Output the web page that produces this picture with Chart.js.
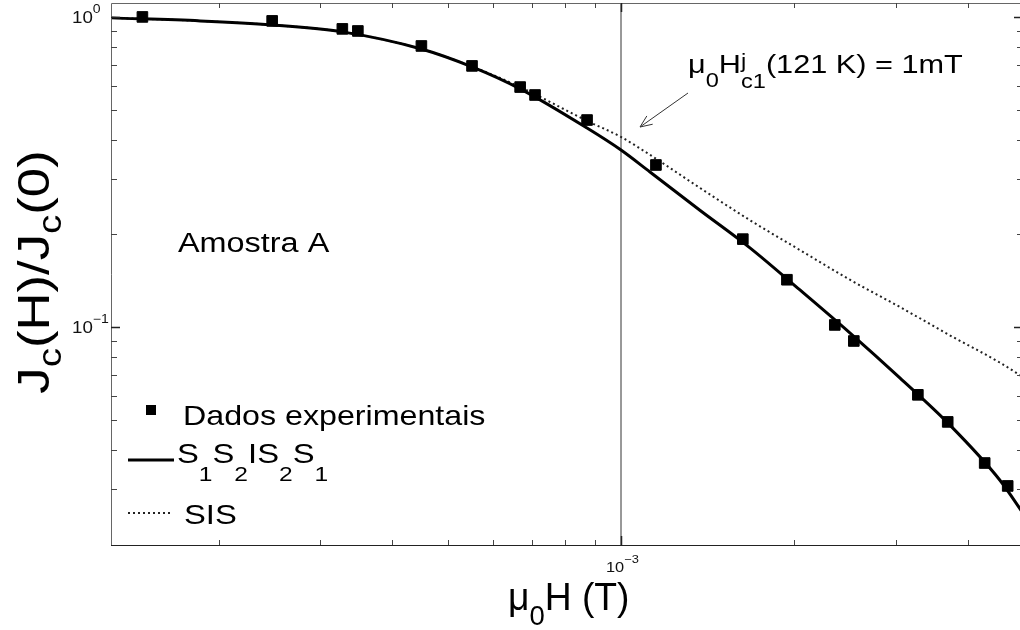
<!DOCTYPE html>
<html>
<head>
<meta charset="utf-8">
<title>Jc(H)/Jc(0) - Amostra A</title>
<script src="https://cdn.jsdelivr.net/npm/chart.js@4.4.0/dist/chart.umd.min.js"></script>
<style>
  html, body { margin: 0; padding: 0; background: #fff; overflow: hidden; }
  canvas { display: block; }
</style>
</head>
<body>
<canvas id="chart" width="1020" height="630"></canvas>
<script>
(function () {
  'use strict';

  /* ── Data ─────────────────────────────────────────────────────────────── */
  // experimental points: mu0*H (T) and Jc(H)/Jc(0)
  const fieldExp = [1.474e-4, 2.477e-4, 3.28e-4, 3.49e-4, 4.50e-4, 5.51e-4, 6.68e-4, 7.09e-4, 8.73e-4,
                    1.150e-3, 1.628e-3, 1.942e-3, 2.352e-3, 2.538e-3, 3.279e-3, 3.695e-3, 4.284e-3, 4.697e-3];
  const jcExp    = [1.0, 0.971, 0.915, 0.901, 0.806, 0.695, 0.594, 0.560, 0.465,
                    0.333, 0.192, 0.142, 0.1015, 0.0901, 0.0604, 0.0494, 0.0364, 0.0307];

  // model curves, sampled along the field axis
  const fieldFit = [1.302e-4, 1.858e-4, 2.477e-4, 3.28e-4, 4.50e-4, 5.51e-4, 6.68e-4, 8.73e-4, 1.0e-3,
                    1.123e-3, 1.371e-3, 1.675e-3, 2.046e-3, 2.498e-3, 3.051e-3, 3.726e-3, 4.550e-3, 5.0e-3];
  const jcSSISS  = [0.993, 0.971, 0.942, 0.895, 0.788, 0.690, 0.586, 0.438, 0.372,
                    0.316, 0.238, 0.180, 0.1316, 0.0957, 0.0685, 0.0483, 0.0321, 0.0250];
  const jcSIS    = [0.993, 0.971, 0.942, 0.895, 0.788, 0.692, 0.594, 0.462, 0.410,
                    0.359, 0.281, 0.221, 0.177, 0.142, 0.116, 0.094, 0.0768, 0.0688];

  // marker line mu0*Hc1(121 K) = 1 mT
  const hc1Field = 1e-3;

  // axes
  const X_MIN = 1.3e-4, X_MAX = 4.934e-3;
  const Y_MIN = 0.0198, Y_MAX = 1.109;
  const xMinorTicks = [2e-4, 3e-4, 4e-4, 5e-4, 6e-4, 7e-4, 8e-4, 9e-4, 2e-3, 3e-3, 4e-3];
  const xMajorTicks = [1e-3];
  const xLabelExps  = ['\u22123'];
  const yMajorTicks = [1, 0.1];
  const yMinorTicks = [0.9, 0.8, 0.7, 0.6, 0.5, 0.4, 0.3, 0.2, 0.09, 0.08, 0.07, 0.06, 0.05, 0.04, 0.03];
  const yLabelExps  = ['0', '\u22121'];

  const FONT = '"Liberation Sans", Arial, Helvetica, sans-serif';
  const SX = 1.17; // the source figure is a bit wider than tall

  const pts = (xs, ys) => xs.map((x, i) => ({ x: x, y: ys[i] }));

  /* ── Rich text helper (sub/superscripts) ──────────────────────────────── */
  function rich(ctx, runs, x, y, sx, draw) {
    let cx = x;
    runs.forEach(r => {
      ctx.font = r.size + 'px ' + FONT;
      const w = ctx.measureText(r.t).width * sx;
      if (draw) {
        ctx.save();
        ctx.translate(cx, y + (r.dy || 0));
        ctx.scale(sx, 1);
        ctx.fillText(r.t, 0, 0);
        ctx.restore();
      }
      if (r.adv !== false) cx += w;
    });
    return cx - x;
  }

  /* ── Frame, ticks, labels, legend, annotation ─────────────────────────── */
  const framePlugin = {
    id: 'frame',
    afterDraw(chart) {
      const ctx = chart.ctx;
      const a = chart.chartArea;
      const xs = chart.scales.x, ys = chart.scales.y;
      ctx.save();
      ctx.textAlign = 'left';
      ctx.textBaseline = 'alphabetic';

      // box (right edge lies just outside the picture)
      ctx.lineWidth = 1;
      ctx.strokeStyle = '#666';
      ctx.beginPath();
      ctx.moveTo(a.right + 2, a.top + 0.5); ctx.lineTo(a.left + 0.5, a.top + 0.5);
      ctx.lineTo(a.left + 0.5, a.bottom);
      ctx.stroke();
      ctx.strokeStyle = '#222';
      ctx.beginPath();
      ctx.moveTo(a.left, a.bottom + 0.5); ctx.lineTo(a.right + 2, a.bottom + 0.5);
      ctx.stroke();

      // ticks (inward, on all four sides)
      const R = a.right + 3;
      function xTick(v, len) {
        const px = Math.round(xs.getPixelForValue(v)) + 0.5;
        ctx.beginPath();
        ctx.moveTo(px, a.bottom); ctx.lineTo(px, a.bottom - len);
        ctx.moveTo(px, a.top); ctx.lineTo(px, a.top + len);
        ctx.stroke();
      }
      function yTick(v, len) {
        const py = Math.round(ys.getPixelForValue(v)) + 0.5;
        ctx.beginPath();
        ctx.moveTo(a.left, py); ctx.lineTo(a.left + len, py);
        ctx.moveTo(R, py); ctx.lineTo(R - len, py);
        ctx.stroke();
      }
      ctx.strokeStyle = '#444';
      ctx.lineWidth = 1;
      xMinorTicks.forEach(v => xTick(v, 5));
      yMinorTicks.forEach(v => yTick(v, 6));
      ctx.lineWidth = 1.5;
      ctx.strokeStyle = '#222';
      xMajorTicks.forEach(v => xTick(v, 9));
      yMajorTicks.forEach(v => yTick(v, 9));

      // tick labels
      ctx.fillStyle = '#111';
      yMajorTicks.forEach((v, i) => {
        const py = ys.getPixelForValue(v);
        rich(ctx, [{ t: '10', size: 16 }, { t: yLabelExps[i], size: 12, dy: -10 }], 72, py + 6, SX, true);
      });
      xMajorTicks.forEach((v, i) => {
        const px = xs.getPixelForValue(v);
        rich(ctx, [{ t: '10', size: 14 }, { t: xLabelExps[i], size: 11, dy: -9 }], px - 15, a.bottom + 27, SX, true);
      });

      // axis titles
      ctx.fillStyle = '#000';
      rich(ctx, [
        { t: '\u03bc', size: 38 }, { t: '0', size: 28, dy: 15 }, { t: 'H (T)', size: 38 }
      ], 508, 610, 0.98, true);

      const yTitle = [
        { t: 'J', size: 45 }, { t: 'c', size: 33, dy: 12 }, { t: '(H)/J', size: 45 },
        { t: 'c', size: 33, dy: 12 }, { t: '(0)', size: 45 }
      ];
      ctx.save();
      ctx.translate(49, 272);
      ctx.rotate(-Math.PI / 2);
      const tw = rich(ctx, yTitle, 0, 0, 1.17, false);
      rich(ctx, yTitle, -tw / 2, 0, 1.17, true);
      ctx.restore();

      // sample name
      rich(ctx, [{ t: 'Amostra A', size: 27 }], 178, 252, 1.2, true);

      // annotation + arrow
      rich(ctx, [
        { t: '\u03bc', size: 26 }, { t: '0', size: 20, dy: 14 }, { t: 'H', size: 26 },
        { t: 'j', size: 20, dy: -5, adv: false }, { t: 'c1', size: 20, dy: 15 },
        { t: '(121 K) = 1mT', size: 26 }
      ], 688, 73, 1.18, true);
      ctx.strokeStyle = '#333';
      ctx.lineWidth = 1;
      const ax0 = 688, ay0 = 93, ax1 = 640, ay1 = 127;
      const ang = Math.atan2(ay1 - ay0, ax1 - ax0);
      ctx.beginPath();
      ctx.moveTo(ax0, ay0); ctx.lineTo(ax1, ay1);
      ctx.moveTo(ax1 - 13 * Math.cos(ang - 0.4), ay1 - 13 * Math.sin(ang - 0.4));
      ctx.lineTo(ax1, ay1);
      ctx.lineTo(ax1 - 13 * Math.cos(ang + 0.4), ay1 - 13 * Math.sin(ang + 0.4));
      ctx.stroke();

      // legend
      ctx.fillStyle = '#000';
      ctx.fillRect(146, 405, 10, 10);
      rich(ctx, [{ t: 'Dados experimentais', size: 28 }], 183, 425, SX - 0.02, true);

      ctx.strokeStyle = '#000';
      ctx.lineWidth = 3;
      ctx.beginPath(); ctx.moveTo(128, 460); ctx.lineTo(174, 460); ctx.stroke();
      rich(ctx, [
        { t: 'S', size: 28 }, { t: '1', size: 21, dy: 18 }, { t: 'S', size: 28 }, { t: '2', size: 21, dy: 18 },
        { t: 'IS', size: 28 }, { t: '2', size: 21, dy: 18 }, { t: 'S', size: 28 }, { t: '1', size: 21, dy: 18 }
      ], 177, 463, SX, true);

      ctx.strokeStyle = '#222';
      ctx.lineWidth = 2;
      ctx.setLineDash([2, 3]);
      ctx.beginPath(); ctx.moveTo(128, 513); ctx.lineTo(173, 513); ctx.stroke();
      ctx.setLineDash([]);
      rich(ctx, [{ t: 'SIS', size: 28 }], 184, 524, SX, true);

      ctx.restore();
    }
  };

  /* ── Chart ────────────────────────────────────────────────────────────── */
  new Chart(document.getElementById('chart').getContext('2d'), {
    type: 'scatter',
    data: {
      datasets: [
        {
          label: 'Dados experimentais',
          data: pts(fieldExp, jcExp),
          pointStyle: 'rect',
          pointRadius: 7.5,
          backgroundColor: '#000',
          borderColor: '#000',
          borderWidth: 1,
          showLine: false
        },
        {
          label: 'S1S2IS2S1',
          data: pts(fieldFit, jcSSISS),
          showLine: true,
          borderColor: '#000',
          borderWidth: 3,
          pointRadius: 0,
          cubicInterpolationMode: 'monotone'
        },
        {
          label: 'SIS',
          data: pts(fieldFit, jcSIS),
          showLine: true,
          borderColor: '#222',
          borderWidth: 2,
          borderDash: [2, 3],
          pointRadius: 0,
          cubicInterpolationMode: 'monotone'
        },
        {
          label: 'Hc1',
          data: [{ x: hc1Field, y: Y_MIN }, { x: hc1Field, y: Y_MAX }],
          showLine: true,
          borderColor: '#333',
          borderWidth: 1,
          pointRadius: 0
        }
      ]
    },
    options: {
      responsive: false,
      animation: false,
      events: [],
      layout: { autoPadding: false, padding: { left: 111, right: 0, top: 3, bottom: 85 } },
      plugins: { legend: { display: false }, tooltip: { enabled: false } },
      scales: {
        x: { type: 'logarithmic', min: X_MIN, max: X_MAX, display: false },
        y: { type: 'logarithmic', min: Y_MIN, max: Y_MAX, display: false }
      }
    },
    plugins: [framePlugin]
  });
})();
</script>
</body>
</html>
